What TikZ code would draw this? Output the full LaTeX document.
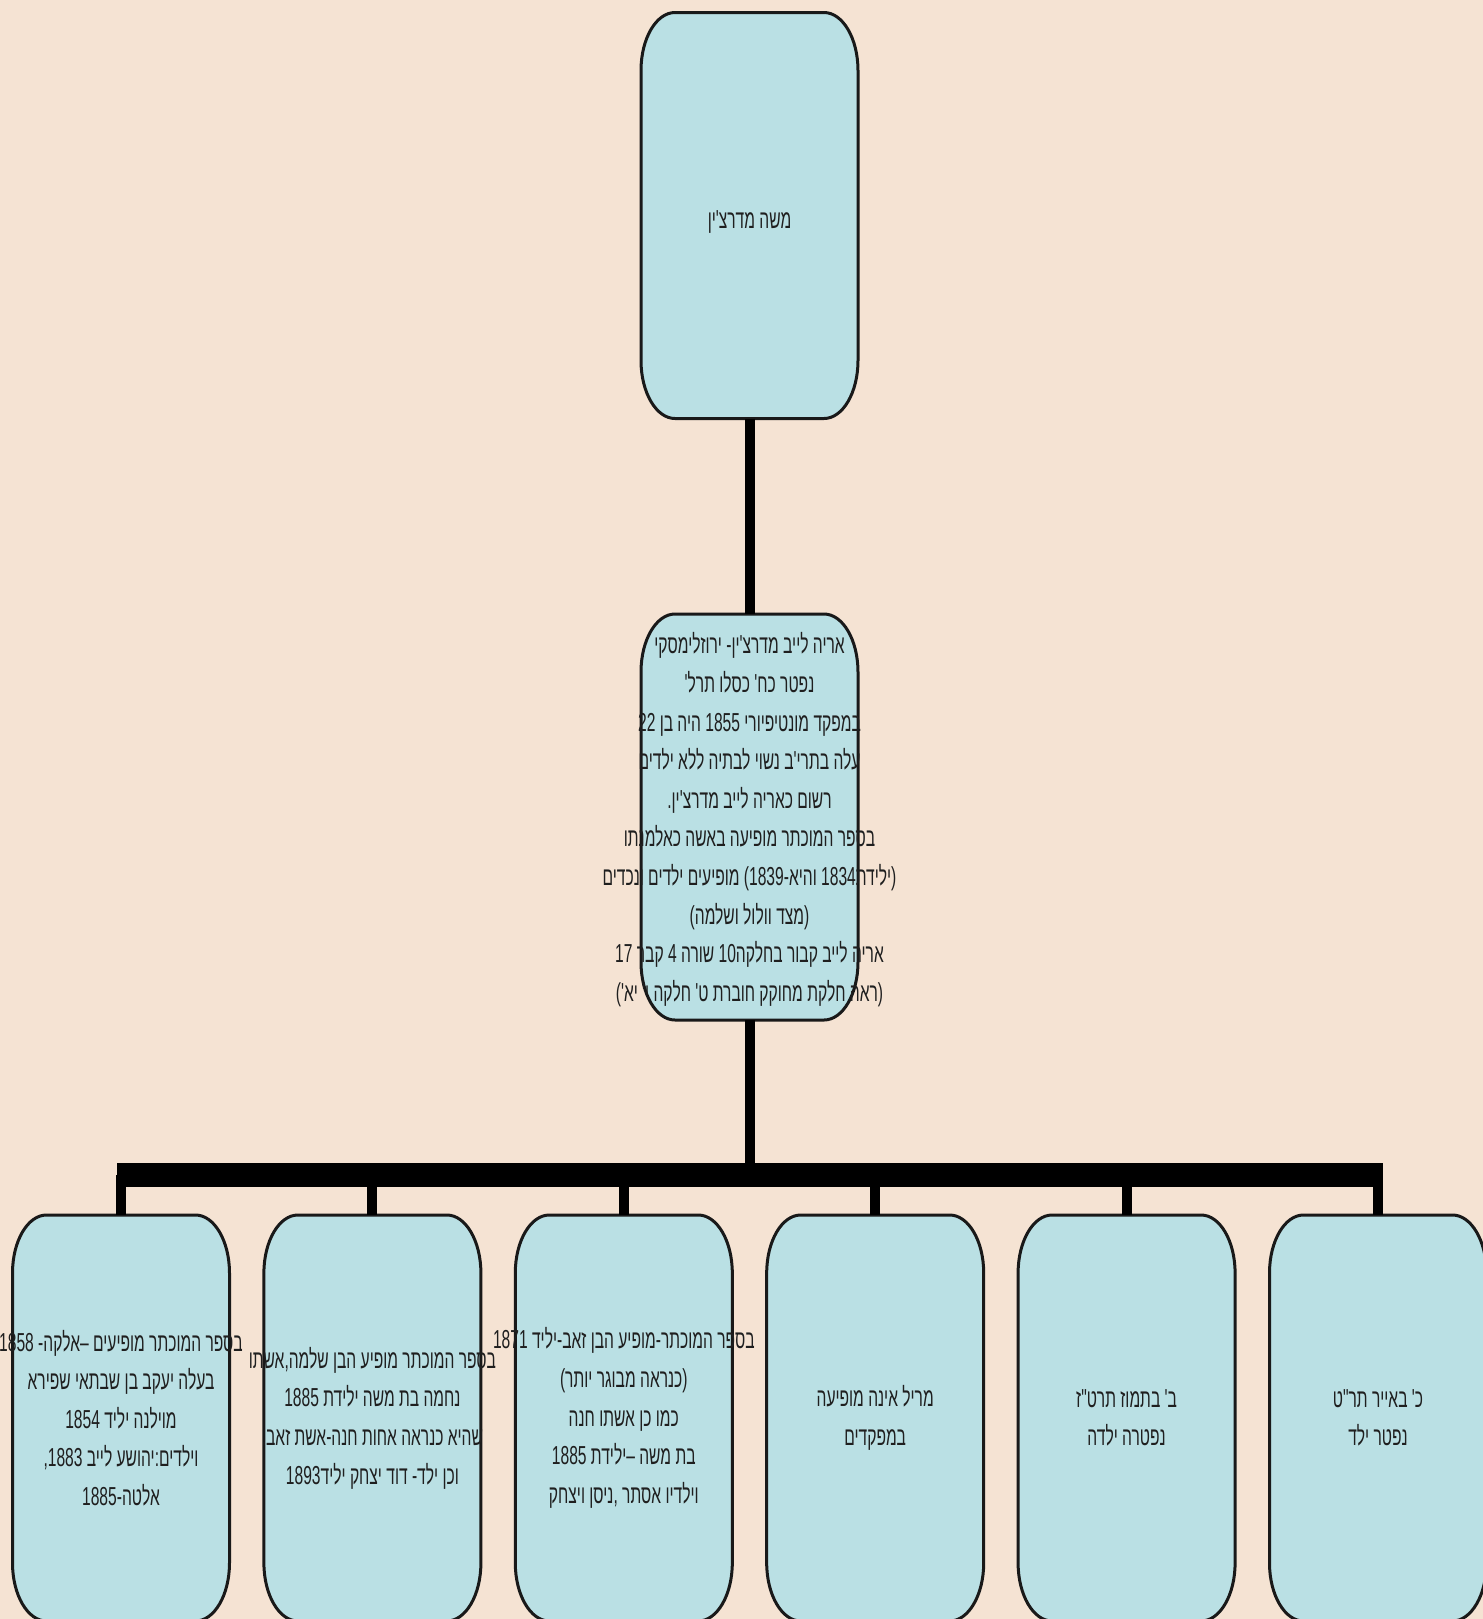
\documentclass[tikz,border=0pt]{standalone}
\usepackage{fontspec}
\newfontfamily\hebfont[Script=Hebrew,FakeStretch=0.6]{Liberation Sans}
\TeXXeTstate=1
\usetikzlibrary{backgrounds}
\definecolor{paper}{HTML}{F5E3D3}
\definecolor{cardfill}{HTML}{BAE0E4}
\newcommand\rline[1]{\beginR #1\endR}
\tikzstyle{person} = [inner sep=0pt, minimum width=108.5pt, minimum height=203pt,
    align=center, text=black!88, font=\hebfont\fontsize{13}{19.3}\selectfont]
\tikzstyle{cardedge} = [fill=cardfill, draw=black!90, line width=1.5pt]
\tikzstyle{trunk} = [line width=5pt]
\tikzstyle{rail} = [line width=12pt]
% card with oval corners round a person node
\newcommand\card[1]{%
  \path[cardedge] ([shift={(-54.25pt,72.5pt)}]#1.center)
    arc[start angle=180,end angle=90,x radius=17pt,y radius=29pt]
    -- ([shift={(37.25pt,101.5pt)}]#1.center)
    arc[start angle=90,end angle=0,x radius=17pt,y radius=29pt]
    -- ([shift={(54.25pt,-72.5pt)}]#1.center)
    arc[start angle=0,end angle=-90,x radius=17pt,y radius=29pt]
    -- ([shift={(-37.25pt,-101.5pt)}]#1.center)
    arc[start angle=270,end angle=180,x radius=17pt,y radius=29pt]
    -- cycle;}
\begin{document}
\begin{tikzpicture}[x=0.5pt,y=0.5pt]
\useasboundingbox (0,0) rectangle (1483,-1619);

\node[person, text height=15pt] (moshe) at (749.5,-215.5) {\rline{משה מדרצ'ין}};

\node[person, text depth=0pt] (arie) at (749.5,-817) {%
\rline{אריה לייב מדרצ'ין- ירוזלימסקי}\\
\rline{נפטר כח' כסלו תרל'}\\
\rline{במפקד מונטיפיורי 1855 היה בן 22}\\
\rline{עלה בתרי'ב נשוי לבתיה ללא ילדים}\\
\rline{רשום כאריה לייב מדרצ'ין.}\\
\rline{בספר המוכתר מופיעה באשה כאלמנתו}\\
\rline{(ילידת1834 והיא-1839) מופיעים ילדים ונכדים}\\
\rline{(מצד וולול ושלמה)}\\
\rline{אריה לייב קבור בחלקה10 שורה 4 קבר 17}\\
\rline{(ראה חלקת מחוקק חוברת ט' חלקה י' יא')}};

\node[person] (kid1) at (121,-1418) {%
\rline{בספר המוכתר מופיעים –אלקה- 1858}\\
\rline{בעלה יעקב בן שבתאי שפירא}\\
\rline{מוילנה יליד 1854}\\
\rline{וילדים:יהושע לייב 1883,}\\
\rline{אלטה-1885}};
\node[person] (kid2) at (372.4,-1418) {%
\rline{בספר המוכתר מופיע הבן שלמה,אשתו}\\
\rline{נחמה בת משה ילידת 1885}\\
\rline{שהיא כנראה אחות חנה-אשת זאב.}\\
\rline{וכן ילד- דוד יצחק יליד1893}};
\node[person] (kid3) at (623.8,-1418) {%
\rline{בספר המוכתר-מופיע הבן זאב-יליד 1871}\\
\rline{(כנראה מבוגר יותר)}\\
\rline{כמו כן אשתו חנה}\\
\rline{בת משה –ילידת 1885}\\
\rline{וילדיו אסתר ,ניסן ויצחק}};
\node[person] (kid4) at (875.2,-1418) {%
\rline{מריל אינה מופיעה}\\
\rline{במפקדים}};
\node[person] (kid5) at (1126.6,-1418) {%
\rline{ב' בתמוז תרט"ז}\\
\rline{נפטרה ילדה}};
\node[person] (kid6) at (1378,-1418) {%
\rline{כ' באייר תר"ט}\\
\rline{נפטר ילד}};

\begin{scope}[on background layer]
\fill[paper] (0,0) rectangle (1483,-1619);
\foreach \p in {moshe,arie,kid1,kid2,kid3,kid4,kid5,kid6}
  \card{\p};
\end{scope}

\coordinate (railW) at (117,-1175);
\coordinate (railE) at (1383,-1175);

\draw[trunk] (moshe.south) -- (arie.north);
\draw[trunk] (arie.south) -- (arie.south |- railW);
\draw[rail] (railW) -- (railE);
\foreach \k in {1,...,6}
  \draw[trunk] (kid\k.north) -- (kid\k.north |- railW);

\end{tikzpicture}
\end{document}
